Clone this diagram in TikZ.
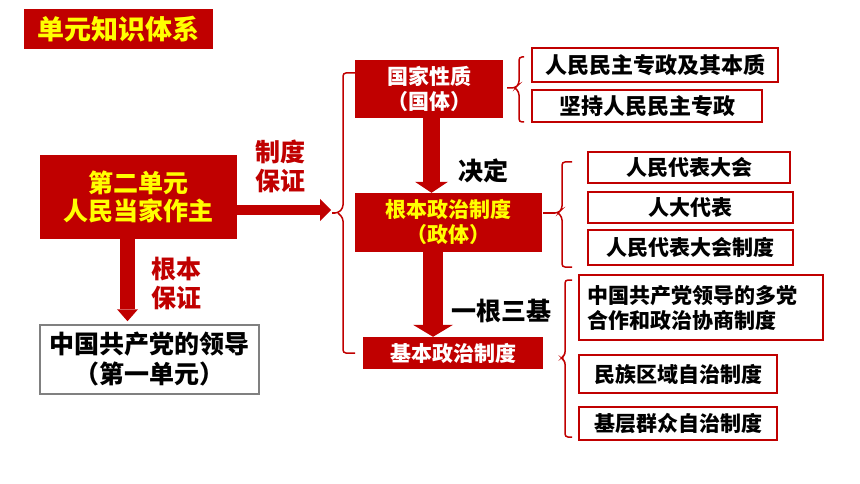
\documentclass[tikz,border=0pt]{standalone}
\usepackage{fontspec}
\setmainfont{Noto Sans CJK SC}
\usetikzlibrary{arrows.meta}
\definecolor{deepred}{RGB}{192,0,0}
\definecolor{gold}{RGB}{255,255,0}
\begin{document}
\begin{tikzpicture}[x=1pt,y=-1pt,
		redbox/.style={fill=deepred,inner sep=0pt,align=center,text=white,
			font=\bfseries\fontsize{21}{25}\selectfont},
		itembox/.style={draw=deepred,line width=2pt,fill=white,inner sep=0pt,
			align=center,font=\bfseries\fontsize{21}{25}\selectfont},
		remark/.style={font=\bfseries\fontsize{25}{29}\selectfont,align=center},
		brk/.style={draw=deepred,line width=1.5pt,rounded corners=3pt},
		fat/.style={draw=deepred}]
	\useasboundingbox (0,0) rectangle (860,484);
	\node[redbox,text=gold,minimum width=189,minimum height=40,
		font=\bfseries\fontsize{27}{31}\selectfont] (title) at (118.5,29) {单元知识体系};
	\node[redbox,text=gold,minimum width=197,minimum height=84,
		font=\bfseries\fontsize{25}{28}\selectfont] (sec) at (138.5,197)
		{第二单元\\人民当家作主};
	\node[itembox,draw=gray,line width=1.5pt,minimum width=219,minimum height=69,
		font=\bfseries\fontsize{25}{30}\selectfont] (lead) at (149.5,359.5)
		{中国共产党的领导\\（第一单元）};
	\node[redbox,minimum width=148,minimum height=58] (nature) at (429,89)
		{国家性质\\（国体）};
	\node[redbox,text=gold,minimum width=187,minimum height=59] (core) at (448.5,222.5)
		{根本政治制度\\（政体）};
	\node[redbox,minimum width=180,minimum height=32] (basic) at (453,353)
		{基本政治制度};
	\node[itembox,minimum width=246,minimum height=34,font=\bfseries\fontsize{22}{26}\selectfont]
		(dict) at (655,65) {人民民主专政及其本质};
	\node[itembox,minimum width=230,minimum height=32,font=\bfseries\fontsize{22}{26}\selectfont]
		(keep) at (647,106) {坚持人民民主专政};
	\node[itembox,minimum width=202,minimum height=31] (congress) at (689,167.5) {人民代表大会};
	\node[itembox,minimum width=205,minimum height=31] (deputy) at (690.5,207.5) {人大代表};
	\node[itembox,minimum width=205,minimum height=35] (system) at (690.5,247.5) {人民代表大会制度};
	\node[itembox,align=left,text width=228,inner xsep=8pt,minimum height=65]
		(party) at (701,307.5) {中国共产党领导的多党\\合作和政治协商制度};
	\node[itembox,minimum width=198,minimum height=38] (ethnic) at (678,374) {民族区域自治制度};
	\node[itembox,minimum width=198,minimum height=33] (grass) at (678,423.5) {基层群众自治制度};
	\node[remark,text=deepred] (guar) at (280,166) {制度\\保证};
	\node[remark,text=deepred] (root) at (176,283) {根本\\保证};
	\node[remark] (decide) at (483,171) {决定};
	\node[remark] (onefour) at (501,311) {一根三基};
	\coordinate (tip) at (331,210);
	\draw[fat,line width=10pt,-{Triangle[width=22pt,length=11pt,line width=0pt]}]
		(sec.east |- tip) -- (tip);
	\draw[fat,line width=15pt,-{Triangle[width=21pt,length=12pt,line width=0pt]}]
		([xshift=-11pt]sec.south) -- ([xshift=-11pt,yshift=3pt]sec.south |- lead.north);
	\draw[fat,line width=17pt,-{Triangle[width=33pt,length=11pt,line width=0pt]}]
		([xshift=2.5pt]nature.south) -- ([xshift=2.5pt]nature.south |- core.north);
	\draw[fat,line width=20pt,-{Triangle[width=40pt,length=12pt,line width=0pt]}]
		([xshift=-15.5pt]core.south) -- ([xshift=-15.5pt]core.south |- basic.north);
	\draw[brk] (355,73) -- (343,73) -- (343,208) -- (338,213) -- (332,213);
	\draw[brk] (338,213) -- (343,218) -- (343,353) -- (355,353);
	\draw[brk] (524,57) -- (519,57) -- (519,84) -- (515,88) -- (507,88);
	\draw[brk] (515,88) -- (519,92) -- (519,122) -- (524,122);
	\draw[brk] (572,162) -- (562,162) -- (562,209) -- (558,213) -- (543,213);
	\draw[brk] (558,213) -- (562,217) -- (562,267) -- (572,267);
	\draw[brk] (572,280) -- (565,280) -- (565,355) -- (561,358) -- (565,361)
		-- (565,437) -- (572,437);
\end{tikzpicture}
\end{document}
